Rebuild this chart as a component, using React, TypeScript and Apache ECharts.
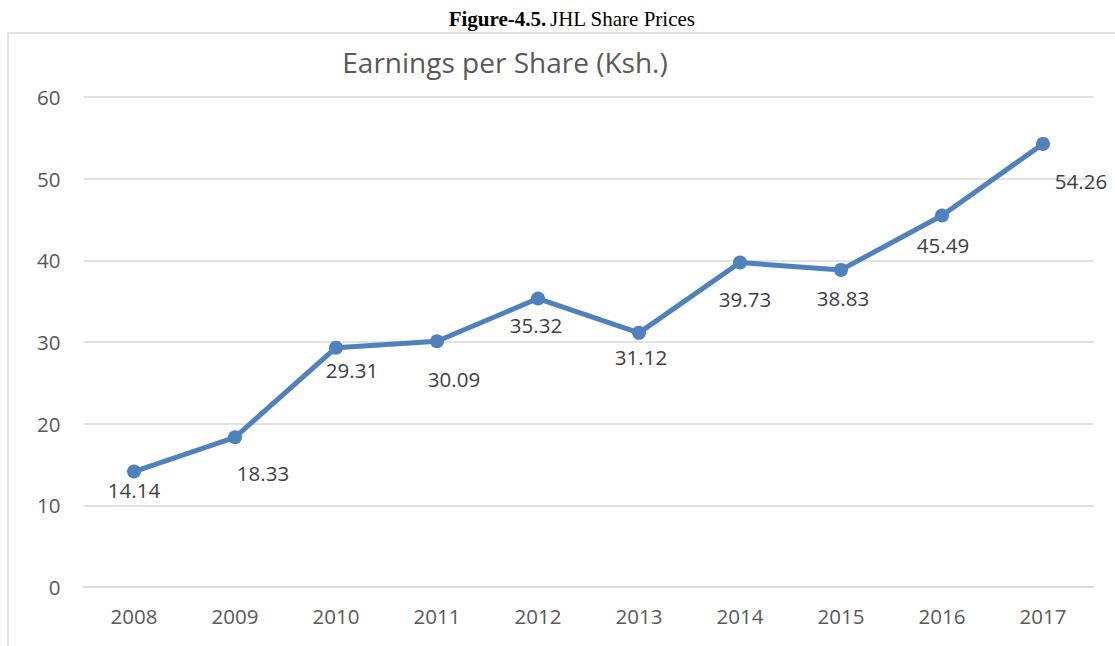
import React, { useEffect, useRef } from "react";
import * as echarts from "echarts";

const years = ["2008", "2009", "2010", "2011", "2012", "2013", "2014", "2015", "2016", "2017"];
const eps = [14.14, 18.33, 29.31, 30.09, 35.32, 31.12, 39.73, 38.83, 45.49, 54.26];
const yTicks = { min: 0, max: 60, interval: 10 };

const labelOffsets: [number, number][] = [
  [0, 18], [28, 36], [16, 22], [17, 38], [-2, 26], [2, 24], [5, 36], [2, 28], [1, 30], [38, 37],
];

const FONT = "'Open Sans', 'Noto Sans', sans-serif";

export default function App() {
  const ref = useRef<HTMLDivElement>(null);
  useEffect(() => {
    document.body.style.margin = "0";
    const chart = echarts.init(ref.current!, null, { renderer: "svg" });
    chart.setOption({
      animation: false,
      backgroundColor: "#ffffff",
      graphic: [
        {
          type: "rect",
          shape: { x: 8, y: 33, width: 1200, height: 700 },
          style: { fill: "none", stroke: "#d9d9d9", lineWidth: 1.5 },
          silent: true,
        },
        {
          type: "text",
          x: 572,
          y: 19,
          style: {
            text: "{b|Figure-4.5.} {n|JHL Share Prices}",
            align: "center",
            verticalAlign: "middle",
            rich: {
              b: { fontFamily: "'Liberation Serif', serif", fontWeight: "bold", fontSize: 21, fill: "#000" },
              n: { fontFamily: "'Liberation Serif', serif", fontSize: 21, fill: "#000" },
            },
          },
        },
        {
          type: "text",
          x: 505,
          y: 62,
          style: {
            text: "Earnings per Share (Ksh.)",
            align: "center",
            verticalAlign: "middle",
            fontFamily: FONT,
            fontSize: 28,
            fill: "#595959",
          },
        },
      ],
      grid: { left: 83.5, right: 21.5, top: 97, bottom: 59 },
      xAxis: {
        type: "category",
        data: years,
        boundaryGap: true,
        axisLine: { show: true, lineStyle: { color: "#d9d9d9", width: 1.5 } },
        axisTick: { show: false },
        axisLabel: { color: "#595959", fontFamily: FONT, fontSize: 20.5, margin: 18 },
      },
      yAxis: {
        type: "value",
        min: yTicks.min,
        max: yTicks.max,
        interval: yTicks.interval,
        axisLine: { show: false },
        axisTick: { show: false },
        splitLine: { lineStyle: { color: "#d9d9d9", width: 1.5 } },
        axisLabel: { color: "#595959", fontFamily: FONT, fontSize: 20.5, margin: 23 },
      },
      series: [
        {
          type: "line",
          data: eps.map((v, i) => ({
            value: v,
            label: { offset: labelOffsets[i] },
          })),
          lineStyle: { color: "#4f81bd", width: 5 },
          itemStyle: { color: "#4f81bd" },
          symbol: "circle",
          symbolSize: 14,
          label: {
            show: true,
            position: "inside",
            color: "#404040",
            fontFamily: FONT,
            fontSize: 20.5,
            formatter: (p: any) => p.value.toFixed(2),
          },
        },
      ],
    });
    return () => chart.dispose();
  }, []);
  return <div ref={ref} style={{ width: 1115, height: 646 }} />;
}
